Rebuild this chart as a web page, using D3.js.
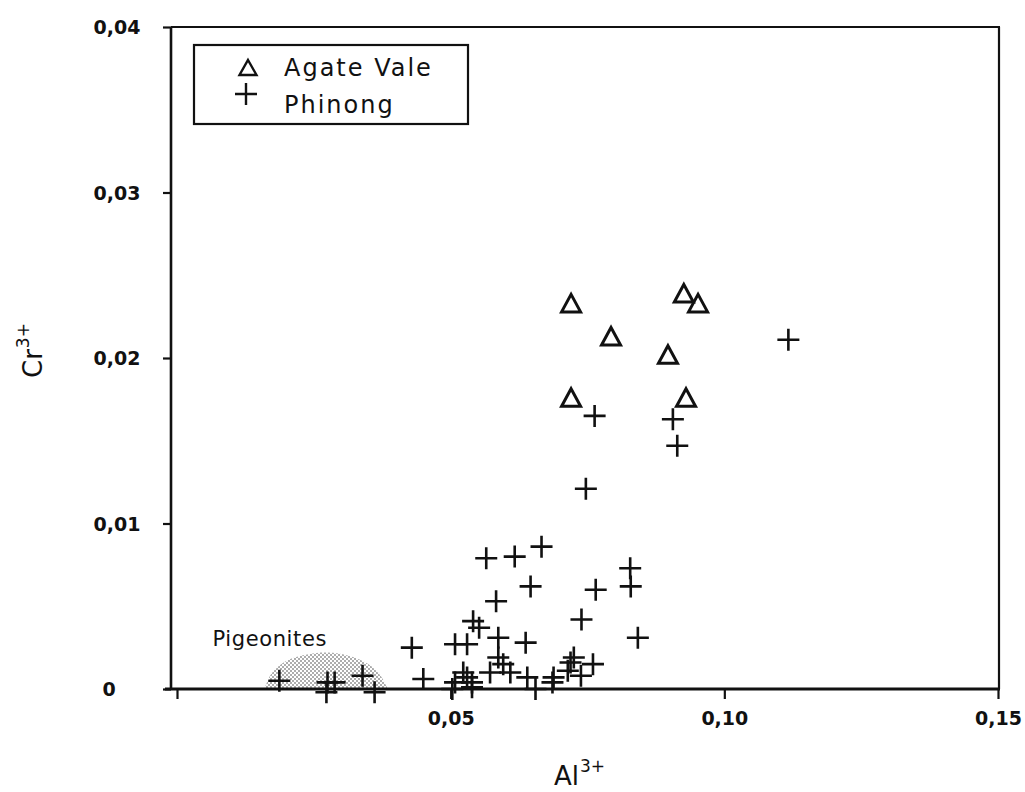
<!DOCTYPE html>
<html>
<head>
<meta charset="utf-8">
<script src="https://cdn.jsdelivr.net/npm/d3@7/dist/d3.min.js"></script>
<style>
  html, body { margin: 0; padding: 0; background: #fff; }
  svg { display: block; }
  text { font-family: "DejaVu Sans", sans-serif; fill: #111; }
</style>
</head>
<body>
<svg id="chart" width="1025" height="792"></svg>
<script>
// ---------- data ----------
const xTicks = [0, 0.05, 0.10, 0.15];
const yTicks = [0, 0.01, 0.02, 0.03, 0.04];
const seriesNames = ["Agate Vale", "Phinong"];

// Agate Vale  [Al3+, Cr3+]
const agateVale = [
  [0.0720, 0.0233], [0.0926, 0.0239], [0.0952, 0.0233], [0.0793, 0.0213],
  [0.0897, 0.0202], [0.0720, 0.0176], [0.0930, 0.0176]
];

// Phinong  [Al3+, Cr3+]
const phinong = [
  [0.1117, 0.0211], [0.0763, 0.0165], [0.0906, 0.0163], [0.0914, 0.0147],
  [0.0747, 0.0121], [0.0666, 0.0086], [0.0617, 0.0080], [0.0565, 0.0079],
  [0.0828, 0.0073], [0.0646, 0.0062], [0.0829, 0.0062], [0.0765, 0.0060],
  [0.0583, 0.0053], [0.0739, 0.0042], [0.0541, 0.0041], [0.0552, 0.0037],
  [0.0587, 0.0031], [0.0842, 0.0031], [0.0637, 0.0028], [0.0508, 0.0027],
  [0.0530, 0.0027], [0.0429, 0.0025], [0.0587, 0.0019], [0.0725, 0.0019],
  [0.0596, 0.0015], [0.0719, 0.0016], [0.0760, 0.0015], [0.0714, 0.0011],
  [0.0738, 0.0008], [0.0523, 0.0010], [0.0572, 0.0010], [0.0609, 0.0010],
  [0.0640, 0.0007], [0.0530, 0.0007], [0.0688, 0.0007], [0.0508, 0.0004],
  [0.0539, 0.0004], [0.0686, 0.0004], [0.0450, 0.0006], [0.0503, 0.0000],
  [0.0539, 0.0001], [0.0655, 0.0000], [0.0187, 0.0005], [0.0275, 0.0004],
  [0.0288, 0.0004], [0.0339, 0.0008], [0.0273, -0.0002], [0.0361, -0.0002]
];

// outline of the shaded "Pigeonites" field [Al3+, Cr3+]
const pigeoniteField = [
  [0.0160, 0.0000], [0.0172, 0.0009], [0.0200, 0.0017], [0.0240, 0.0021],
  [0.0275, 0.0022], [0.0315, 0.0020], [0.0350, 0.0015], [0.0372, 0.0008],
  [0.0385, 0.0000]
];
const pigeoniteLabel = { x: 0.0065, y: 0.0026, text: "Pigeonites" };

// ---------- layout ----------
const svg = d3.select("#chart");
const pLeft = 171, pRight = 999, pTop = 27, pBottom = 689;

const x = d3.scaleLinear().domain([0, 0.15]).range([177, 998]);
const y = d3.scaleLinear().domain([0, 0.04]).range([pBottom, pTop]);

const fmt = d => d === 0 ? "0" : d3.format(".2f")(d).replace(".", ",");

// stipple pattern
const defs = svg.append("defs");
const pat = defs.append("pattern")
  .attr("id", "stipple").attr("patternUnits", "userSpaceOnUse")
  .attr("width", 4).attr("height", 4);
pat.append("circle").attr("cx", 1).attr("cy", 1).attr("r", 0.8).attr("fill", "#444");
pat.append("circle").attr("cx", 3).attr("cy", 3).attr("r", 0.8).attr("fill", "#444");

// pigeonite field
svg.append("path")
  .datum(pigeoniteField)
  .attr("d", d3.line().x(d => x(d[0])).y(d => y(d[1])).curve(d3.curveCatmullRom))
  .attr("fill", "url(#stipple)")
  .attr("stroke", "none");

svg.append("text")
  .attr("x", x(pigeoniteLabel.x)).attr("y", y(pigeoniteLabel.y))
  .attr("font-size", 21).attr("letter-spacing", 0.6)
  .text(pigeoniteLabel.text);

// frame (top and right)
svg.append("line").attr("x1", pLeft).attr("x2", pRight + 1).attr("y1", pTop).attr("y2", pTop)
  .attr("stroke", "#111").attr("stroke-width", 2.2);
svg.append("line").attr("x1", pRight).attr("x2", pRight).attr("y1", pTop).attr("y2", pBottom)
  .attr("stroke", "#111").attr("stroke-width", 2.2);

// y axis
const yAxis = svg.append("g")
  .attr("transform", `translate(${pLeft},0)`)
  .call(d3.axisLeft(y).tickValues(yTicks).tickSize(8).tickFormat(fmt));
yAxis.select(".domain").attr("stroke", "#111").attr("stroke-width", 2.6)
  .attr("d", `M0,${pTop}V${pBottom + 1}`);
yAxis.selectAll(".tick line").attr("stroke", "#111").attr("stroke-width", 2.2);
yAxis.selectAll(".tick text")
  .attr("font-family", "DejaVu Sans, sans-serif")
  .attr("font-size", 19).attr("font-weight", "bold").attr("text-anchor", "middle")
  .attr("x", d => d === 0 ? -62 : -54).attr("dy", "0.36em")
  .attr("fill", "#111");

// x axis
const xAxis = svg.append("g")
  .attr("transform", `translate(0,${pBottom})`)
  .call(d3.axisBottom(x).tickValues(xTicks).tickSize(10).tickFormat(d => d === 0 ? "" : fmt(d)));
xAxis.select(".domain").attr("stroke", "#111").attr("stroke-width", 2.8)
  .attr("d", `M${pLeft - 6},0H${pRight + 1}`);
xAxis.selectAll(".tick line").attr("stroke", "#111").attr("stroke-width", 2.2);
xAxis.selectAll(".tick text")
  .attr("font-family", "DejaVu Sans, sans-serif")
  .attr("font-size", 19).attr("font-weight", "bold").attr("y", 23).attr("dy", "0.71em")
  .attr("fill", "#111");

// axis titles
const xt = svg.append("text").attr("x", 554).attr("y", 785).attr("font-size", 26);
xt.append("tspan").text("Al");
xt.append("tspan").attr("font-size", 17).attr("dy", -13).attr("dx", 1).text("3+");

const yt = svg.append("text")
  .attr("transform", "translate(42,378) rotate(-90)")
  .attr("font-size", 26);
yt.append("tspan").text("Cr");
yt.append("tspan").attr("font-size", 17).attr("dy", -13).attr("dx", 1).text("3+");

// markers
const crossPath = s => `M${-s},0H${s}M0,${-s}V${s}`;
const triPath = `M0,-9L9.5,8.5L-9.5,8.5Z`;

svg.append("g").selectAll("path")
  .data(phinong).join("path")
  .attr("transform", d => `translate(${x(d[0])},${y(d[1])})`)
  .attr("d", crossPath(11))
  .attr("stroke", "#111").attr("stroke-width", 2.6).attr("fill", "none");

svg.append("g").selectAll("path")
  .data(agateVale).join("path")
  .attr("transform", d => `translate(${x(d[0])},${y(d[1])})`)
  .attr("d", triPath)
  .attr("stroke", "#111").attr("stroke-width", 3).attr("stroke-linejoin", "miter")
  .attr("fill", "none");

// legend
const lg = svg.append("g");
lg.append("rect").attr("x", 194).attr("y", 45).attr("width", 274).attr("height", 79)
  .attr("fill", "#fff").attr("stroke", "#111").attr("stroke-width", 2.2);
lg.append("path").attr("transform", "translate(248,68)")
  .attr("d", `M0,-8L8.5,7L-8.5,7Z`)
  .attr("stroke", "#111").attr("stroke-width", 2.4).attr("fill", "none");
lg.append("path").attr("transform", "translate(246,94)")
  .attr("d", crossPath(11))
  .attr("stroke", "#111").attr("stroke-width", 2.4).attr("fill", "none");
lg.append("text").attr("x", 284).attr("y", 76).attr("font-size", 24)
  .attr("letter-spacing", 2).text(seriesNames[0]);
lg.append("text").attr("x", 284).attr("y", 113).attr("font-size", 24)
  .attr("letter-spacing", 2).text(seriesNames[1]);
</script>
</body>
</html>
